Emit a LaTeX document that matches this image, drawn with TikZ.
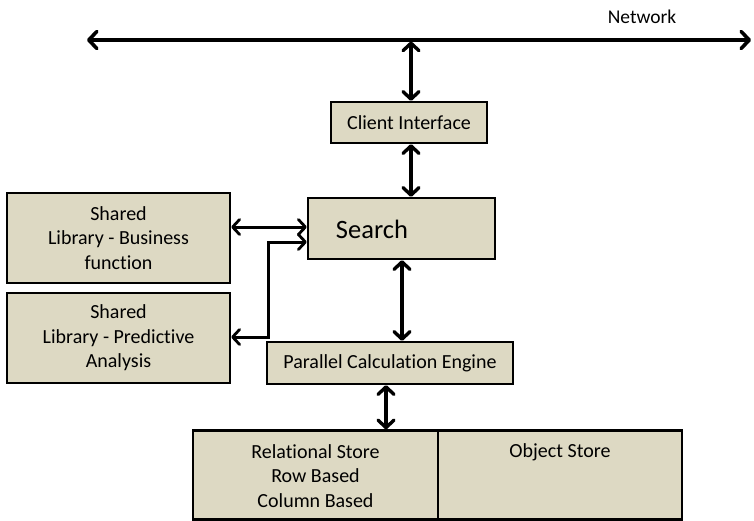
\documentclass[tikz,border=0pt]{standalone}
\usepackage{fontspec}
\setmainfont{Carlito}[Ligatures={NoCommon}]
\usetikzlibrary{arrows.meta}
\definecolor{boxfill}{RGB}{221,217,195}
\tikzset{
  box/.style={draw=black, line width=2.4pt, fill=boxfill, inner sep=0pt, font=\fontsize{20}{24.5}\selectfont, align=center},
  txt/.style={inner sep=0pt, font=\fontsize{20}{24.5}\selectfont, align=center},
  dbl/.style={line width=3.6pt, line cap=round, {Straight Barb[length=7.5pt,width=16pt,line width=3.4pt, round]}-{Straight Barb[length=7.5pt,width=16pt,line width=3.4pt, round]}},
  hdbl/.style={line width=3pt, {Straight Barb[length=7pt,width=15pt,line width=2.8pt, round]}-{Straight Barb[length=7pt,width=15pt,line width=2.8pt, round]}}
}
\begin{document}
\begin{tikzpicture}[x=1pt,y=1pt]
\useasboundingbox (0,0) rectangle (754,-520);
% boxes
\node[box, minimum width=156pt, minimum height=41pt] (ci) at (409,-122.5) {Client Interface};
\node[box, minimum width=187pt, minimum height=61pt] (search) at (401.5,-228.5) {};
\node[txt, font=\fontsize{26.5}{30}\selectfont] (searcht) at (372,-229) {Search};
\node[box, minimum width=223pt, minimum height=90pt] (bus) at (118.5,-238) {Shared\\Library - Business\\function};
\node[box, minimum width=223pt, minimum height=90pt] (pred) at (118.5,-338) {Shared\\Library - Predictive\\Analysis};
\node[box, minimum width=246pt, minimum height=42pt] (pce) at (390,-363) {Parallel Calculation Engine};
\node[box, minimum width=245pt, minimum height=89pt] (rel) at (315.5,-475) {};
\node[txt] (relt) at (315.5,-476) {Relational Store\\Row Based\\Column Based};
\node[box, minimum width=244pt, minimum height=89pt] (obj) at (560,-475) {};
\node[txt] (objt) at (560,-452) {Object Store};
\node[txt, font=\fontsize{19.5}{22}\selectfont] (nett) at (642,-17) {Network};
% network
\coordinate (netL) at (87,-40);
\coordinate (netR) at (751,-40);
\coordinate (netC) at (411,-40);
\draw[line width=4pt, {Straight Barb[length=8pt,width=17pt,line width=3.6pt, round]}-{Straight Barb[length=8pt,width=17pt,line width=3.6pt, round]}] (netL) -- (netR);
% connectors
\draw[dbl] ([yshift=-1.5pt]netC) -- (ci.north -| netC);
\draw[dbl] (ci.south -| netC) -- (search.north -| netC);
\draw[hdbl] (bus.east |- 0,-227) -- (search.west |- 0,-227);
\coordinate (bend1) at (268,-337);
\coordinate (bend2) at (268,-242);
\draw[hdbl] (pred.east |- bend1) -- (bend1) -- (bend2) -- (search.west |- bend2);
\coordinate (sx) at (402,0);
\draw[dbl] (search.south -| sx) -- (pce.north -| sx);
\coordinate (px) at (386,0);
\draw[dbl] (pce.south -| px) -- (rel.north -| px);
\end{tikzpicture}
\end{document}
